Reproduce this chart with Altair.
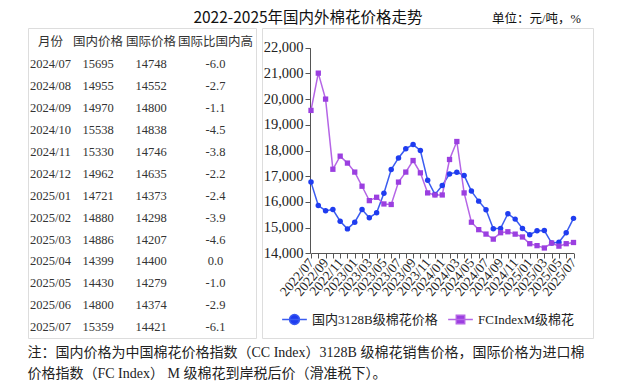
import altair as alt
import pandas as pd

# ---------------- data ----------------
months = ["2022/07", "2022/08", "2022/09", "2022/10", "2022/11", "2022/12",
          "2023/01", "2023/02", "2023/03", "2023/04", "2023/05", "2023/06",
          "2023/07", "2023/08", "2023/09", "2023/10", "2023/11", "2023/12",
          "2024/01", "2024/02", "2024/03", "2024/04", "2024/05", "2024/06",
          "2024/07", "2024/08", "2024/09", "2024/10", "2024/11", "2024/12",
          "2025/01", "2025/02", "2025/03", "2025/04", "2025/05", "2025/06",
          "2025/07"]

table_header = ["月份", "国内价格", "国际价格", "国际比国内高"]
table_months = ["2024/07", "2024/08", "2024/09", "2024/10", "2024/11", "2024/12",
                "2025/01", "2025/02", "2025/03", "2025/04", "2025/05", "2025/06",
                "2025/07"]
table_dom = [15695, 14955, 14970, 15538, 15330, 14962, 14721, 14880, 14886,
             14399, 14430, 14800, 15359]
table_intl = [14748, 14552, 14800, 14838, 14746, 14635, 14373, 14298, 14207,
              14400, 14279, 14374, 14421]
table_pct = ["-6.0", "-2.7", "-1.1", "-4.5", "-3.8", "-2.2", "-2.4", "-3.9",
             "-4.6", "0.0", "-1.0", "-2.9", "-6.1"]

dom_early = [16770, 15860, 15660, 15700, 15250, 14950, 15210, 15700, 15380,
             15580, 16340, 17260, 17710, 18070, 18230, 18000, 16840, 16290,
             16640, 17090, 17150, 17030, 16420, 16030]
intl_early = [19560, 21010, 20000, 17270, 17780, 17510, 17160, 16610, 16050,
              16180, 15920, 15900, 16770, 17160, 17610, 17130, 16350, 16270,
              16270, 17650, 18350, 16350, 15210, 14920]
domestic = dom_early + table_dom
international = intl_early + table_intl

dom_name = "国内3128B级棉花价格"
fc_name = "FCIndexM级棉花"

y_ticks = [14000, 15000, 16000, 17000, 18000, 19000, 20000, 21000, 22000]

title_text = "2022-2025年国内外棉花价格走势"
unit_text = "单位：元/吨，%"
note_lines = ["注：国内价格为中国棉花价格指数（CC Index）3128B 级棉花销售价格，国际价格为进口棉",
              "价格指数（FC Index） M 级棉花到岸税后价（滑准税下）。"]

# ---------------- styles ----------------
BLUE = "#1f3cf0"
BLUE_LINE = "#3b5cf0"
PURPLE = "#9b3fe0"
PURPLE_LINE = "#b565e6"
SERIF = "Liberation Serif, Noto Sans CJK SC"
SANS = "Noto Sans CJK SC"

TABLE_W = 228
GAP = 6

# ---------------- table ----------------
rows = [{"r": 0, "c0": table_header[0], "c1": table_header[1],
         "c2": table_header[2], "c3": table_header[3]}]
for i, m in enumerate(table_months):
    rows.append({"r": i + 1, "c0": m, "c1": str(table_dom[i]),
                 "c2": str(table_intl[i]), "c3": table_pct[i]})
tdf = pd.DataFrame(rows)

ty = alt.Y("r:Q", scale=alt.Scale(domain=[0, 13], range=[14, 299.3], nice=False, zero=False), axis=None)
col_x = [22.5, 70, 123, 187.5]
tlayers = []
for k, cx in enumerate(col_x):
    tlayers.append(
        alt.Chart(tdf).mark_text(font=SERIF, fontSize=12.5, color="#333", baseline="middle", align="center")
        .encode(x=alt.value(cx), y=ty, text=f"c{k}:N")
    )
table = alt.layer(*tlayers).properties(
    width=TABLE_W, height=310,
    title=alt.TitleParams(title_text, anchor="start", align="center", dx=280, offset=2,
                          font=SANS, fontSize=15.5, fontWeight="normal", color="#111"),
)

# ---------------- line chart ----------------
df = pd.DataFrame({
    "month": months * 2,
    "value": domestic + international,
    "series": [dom_name] * len(months) + [fc_name] * len(months),
})
df["series2"] = df["series"]

x_enc = alt.X("month:O", scale=alt.Scale(type="point", domain=months, range=[49, 311.5], padding=0),
              axis=alt.Axis(title=None, orient="bottom", offset=-85, labelAngle=-50,
                            labelAlign="right", labelBaseline="middle",
                            labelExpr="toNumber(slice(datum.value, 5)) % 2 == 1 ? datum.value : ''",
                            labelFont=SERIF, labelFontSize=13.5, labelColor="#222",
                            tickSize=5, tickColor="#555", domainColor="#555", labelPadding=2,
                            grid=False, labelOverlap=False))
y_enc = alt.Y("value:Q", scale=alt.Scale(domain=[14000, 22000], range=[225.3, 19.7], nice=False, zero=False),
              axis=alt.Axis(title=None, orient="left", offset=-48, values=y_ticks, format=",.0f",
                            labelFont=SERIF, labelFontSize=14.5, labelColor="#222",
                            tickSize=5, tickColor="#555", domainColor="#555", labelPadding=2,
                            grid=False))

circle_path = ("M-1,0L1,0M-0.4,0A0.4,0.4,0,1,0,0.4,0A0.4,0.4,0,1,0,-0.4,0Z")
square_path = ("M-1,0L1,0M-0.34,-0.34L0.34,-0.34L0.34,0.34L-0.34,0.34Z")

# legends of a concatenated chart live in the top-level frame
LX0 = TABLE_W + GAP
lines = alt.Chart(df).mark_line(strokeWidth=1.5).encode(
    x=x_enc, y=y_enc,
    stroke=alt.Stroke("series:N", scale=alt.Scale(domain=[dom_name, fc_name], range=[BLUE_LINE, PURPLE_LINE]),
                      legend=alt.Legend(title=None, orient="none", legendX=LX0 + 19, legendY=278,
                                        values=[dom_name], symbolType=circle_path, symbolSize=610,
                                        symbolFillColor=BLUE, symbolStrokeWidth=1.5,
                                        labelFont=SERIF, labelFontSize=13, labelColor="#222",
                                        labelOffset=4, padding=0, direction="horizontal")),
)
pts_dom = alt.Chart(df).transform_filter(alt.datum.series == dom_name).mark_circle(
    size=30, color=BLUE, opacity=1).encode(x=x_enc, y=y_enc)
pts_fc = alt.Chart(df).transform_filter(alt.datum.series == fc_name).mark_square(
    size=28, opacity=1).encode(
    x=x_enc, y=y_enc,
    fill=alt.Fill("series2:N", scale=alt.Scale(domain=[fc_name], range=[PURPLE]),
                  legend=alt.Legend(title=None, orient="none", legendX=LX0 + 185, legendY=278,
                                    symbolType=square_path, symbolSize=610,
                                    symbolStrokeColor=PURPLE_LINE, symbolStrokeWidth=1.5,
                                    labelFont=SERIF, labelFontSize=13, labelColor="#222",
                                    labelOffset=4, padding=0, direction="horizontal")),
)

line_chart = alt.layer(lines, pts_dom, pts_fc).properties(
    width=331, height=310,
    title=alt.TitleParams(unit_text, anchor="end", dx=-12, offset=3,
                          font=SERIF, fontSize=12.5, fontWeight="normal", color="#111"),
)

chart = alt.hconcat(table, line_chart, spacing=GAP, bounds="flush").properties(
    padding={"left": 19, "top": 2, "right": 5, "bottom": 5},
    title=alt.TitleParams(note_lines, orient="bottom", anchor="start", offset=7, lineHeight=21,
                          font=SERIF, fontSize=14, fontWeight="normal", color="#222"),
).configure_view(stroke="#c8c8c8", strokeWidth=1.5).configure(background="white")

chart.save("out.html", embed_options={"renderer": "svg", "actions": False})
